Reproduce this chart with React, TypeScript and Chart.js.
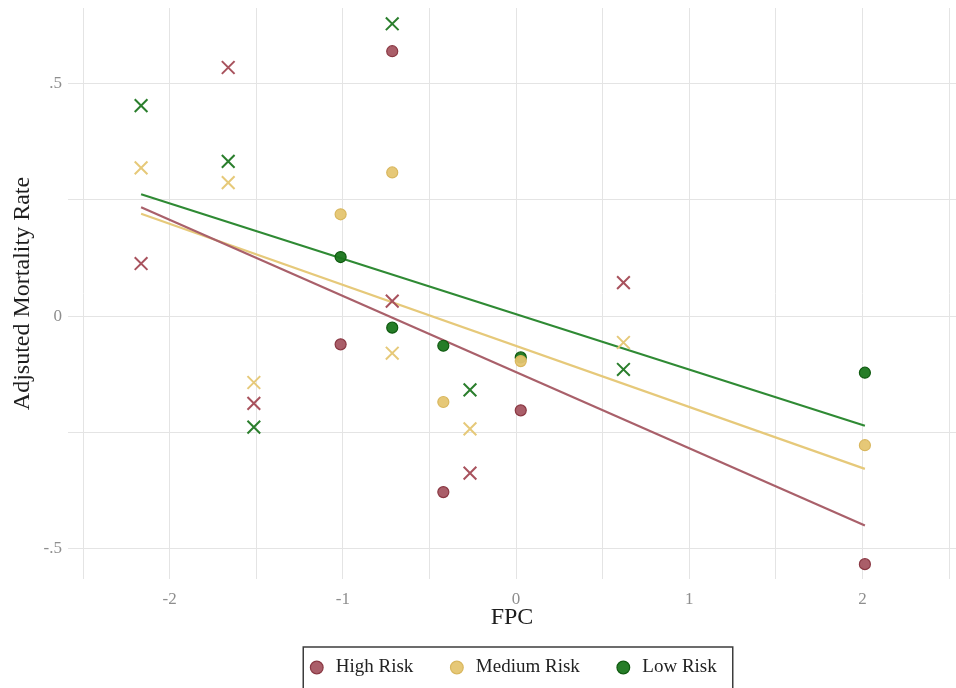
import { useEffect, useRef } from 'react';
import { Chart, registerables } from 'chart.js';

Chart.register(...registerables);

// Circles (legend series) share the same FPC values
const circleX = [-1.013, -0.715, -0.42, 0.027, 2.014];
const highCircleY = [-0.061, 0.57, -0.379, -0.203, -0.534];
const mediumCircleY = [0.219, 0.309, -0.185, -0.097, -0.278];
const lowCircleY = [0.127, -0.025, -0.064, -0.089, -0.122];

// Crosses
const crossX = [-2.165, -1.662, -1.514, -0.715, -0.266, 0.62];
const highCrossY = [0.113, 0.535, -0.188, 0.032, -0.338, 0.072];
const mediumCrossY = [0.319, 0.287, -0.143, -0.08, -0.243, -0.057];
const lowCrossY = [0.453, 0.333, -0.239, 0.629, -0.159, -0.115];

// Fitted lines (end points)
const fitX = [-2.165, 2.014];
const highFitY = [0.234, -0.451];
const mediumFitY = [0.22, -0.329];
const lowFitY = [0.262, -0.236];

const seriesNames = ['High Risk', 'Medium Risk', 'Low Risk'];

const xGridValues = [-2.5, -2, -1.5, -1, -0.5, 0, 0.5, 1, 1.5, 2, 2.5];
const xTickValues = [-2, -1, 0, 1, 2];
const xTickLabels = ['-2', '-1', '0', '1', '2'];
const yGridValues = [-0.5, -0.25, 0, 0.25, 0.5];
const yTickValues = [-0.5, 0, 0.5];
const yTickLabels = ['-.5', '0', '.5'];

const FONT = "'Liberation Serif', 'DejaVu Serif', serif";

const colors = {
  high: { fill: 'rgba(163,80,92,0.92)', border: '#8a3843', cross: '#a8525d', line: '#a9606a' },
  medium: { fill: 'rgba(229,197,112,0.95)', border: '#d9b75e', cross: '#e6c979', line: '#e6c97a' },
  low: { fill: 'rgba(26,118,28,0.95)', border: '#0f5a10', cross: '#2a7e2c', line: '#2f8a34' },
};

const toPts = (xs: number[], ys: number[]) => xs.map((x, i) => ({ x, y: ys[i] }));

const legendBorder = {
  id: 'legendBorder',
  afterDraw(chart: any) {
    const lg = chart.legend;
    const hb = lg && lg.legendHitBoxes;
    if (!hb || !hb.length) return;
    const first = hb[0];
    const last = hb[hb.length - 1];
    const ctx = chart.ctx;
    const left = first.left - 4;
    const right = last.left + last.width + 16;
    const top = first.top - 11;
    ctx.save();
    ctx.strokeStyle = '#3c3c3c';
    ctx.lineWidth = 1.5;
    ctx.strokeRect(left, top, right - left, 80);
    ctx.restore();
  },
};

export default function App() {
  const ref = useRef<HTMLCanvasElement | null>(null);

  useEffect(() => {
    document.body.style.margin = '0';
    if (!ref.current) return;
    const circle = (label: string, ys: number[], c: any) => ({
      label,
      data: toPts(circleX, ys),
      pointStyle: 'circle',
      pointRadius: 5.5,
      pointBorderWidth: 1.2,
      backgroundColor: c.fill,
      borderColor: c.border,
      showLine: false,
    });
    const cross = (label: string, ys: number[], c: any) => ({
      label,
      data: toPts(crossX, ys),
      pointStyle: 'crossRot',
      pointRadius: 9,
      pointBorderWidth: 2,
      backgroundColor: c.cross,
      borderColor: c.cross,
      showLine: false,
    });
    const fit = (label: string, ys: number[], c: any) => ({
      label,
      data: toPts(fitX, ys),
      showLine: true,
      pointRadius: 0,
      borderWidth: 2.2,
      borderColor: c.line,
      backgroundColor: c.line,
      fill: false,
    });

    const chart = new Chart(ref.current, {
      type: 'scatter',
      data: {
        datasets: [
          circle(seriesNames[0], highCircleY, colors.high),
          circle(seriesNames[1], mediumCircleY, colors.medium),
          circle(seriesNames[2], lowCircleY, colors.low),
          cross(seriesNames[0] + ' x', highCrossY, colors.high),
          cross(seriesNames[1] + ' x', mediumCrossY, colors.medium),
          cross(seriesNames[2] + ' x', lowCrossY, colors.low),
          fit(seriesNames[0] + ' fit', highFitY, colors.high),
          fit(seriesNames[1] + ' fit', mediumFitY, colors.medium),
          fit(seriesNames[2] + ' fit', lowFitY, colors.low),
        ] as any,
      },
      options: {
        responsive: false,
        animation: false,
        devicePixelRatio: 1,
        layout: { autoPadding: false, padding: { top: 8, right: 0, bottom: 1, left: 0 } },
        plugins: {
          tooltip: { enabled: false },
          legend: {
            position: 'bottom',
            fullSize: false,
            labels: {
              filter: (item: any) => item.datasetIndex < 3,
              usePointStyle: true,
              boxWidth: 19,
              boxHeight: 9,
              padding: 34,
              color: '#222',
              font: { family: FONT, size: 19 },
            },
          },
        },
        scales: {
          x: {
            type: 'linear',
            min: -2.587,
            max: 2.54,
            afterBuildTicks: (s: any) => {
              s.ticks = xGridValues.map((v) => ({ value: v }));
            },
            afterFit: (s: any) => {
              s.height = 45;
              s.paddingLeft = 0;
              s.paddingRight = 0;
            },
            grid: { color: '#e4e4e4', lineWidth: 1, drawTicks: false },
            border: { display: false },
            ticks: {
              autoSkip: false,
              maxRotation: 0,
              padding: 10,
              color: '#8e8e8e',
              font: { family: FONT, size: 17 },
              callback: (v: any) => {
                const i = xTickValues.indexOf(Number(v));
                return i >= 0 ? xTickLabels[i] : '';
              },
            },
            title: {
              display: true,
              text: 'FPC',
              color: '#1e1e1e',
              font: { family: FONT, size: 24 },
              padding: { top: 0, bottom: -8 },
            },
          },
          y: {
            type: 'linear',
            min: -0.566,
            max: 0.663,
            afterBuildTicks: (s: any) => {
              s.ticks = yGridValues.map((v) => ({ value: v }));
            },
            afterFit: (s: any) => {
              s.width = 68;
              s.paddingTop = 0;
              s.paddingBottom = 0;
            },
            grid: { color: '#e4e4e4', lineWidth: 1, drawTicks: false },
            border: { display: false },
            ticks: {
              autoSkip: false,
              padding: 6,
              color: '#8e8e8e',
              font: { family: FONT, size: 17 },
              callback: (v: any) => {
                const i = yTickValues.indexOf(Number(v));
                return i >= 0 ? yTickLabels[i] : '';
              },
            },
            title: {
              display: true,
              text: 'Adjsuted Mortality Rate',
              color: '#1e1e1e',
              font: { family: FONT, size: 24 },
              padding: { top: 8, bottom: 0 },
            },
          },
        },
      } as any,
      plugins: [legendBorder],
    });
    return () => chart.destroy();
  }, []);

  return (
    <div style={{ width: 956, height: 688 }}>
      <canvas ref={ref} width={956} height={688} style={{ display: 'block' }} />
    </div>
  );
}
